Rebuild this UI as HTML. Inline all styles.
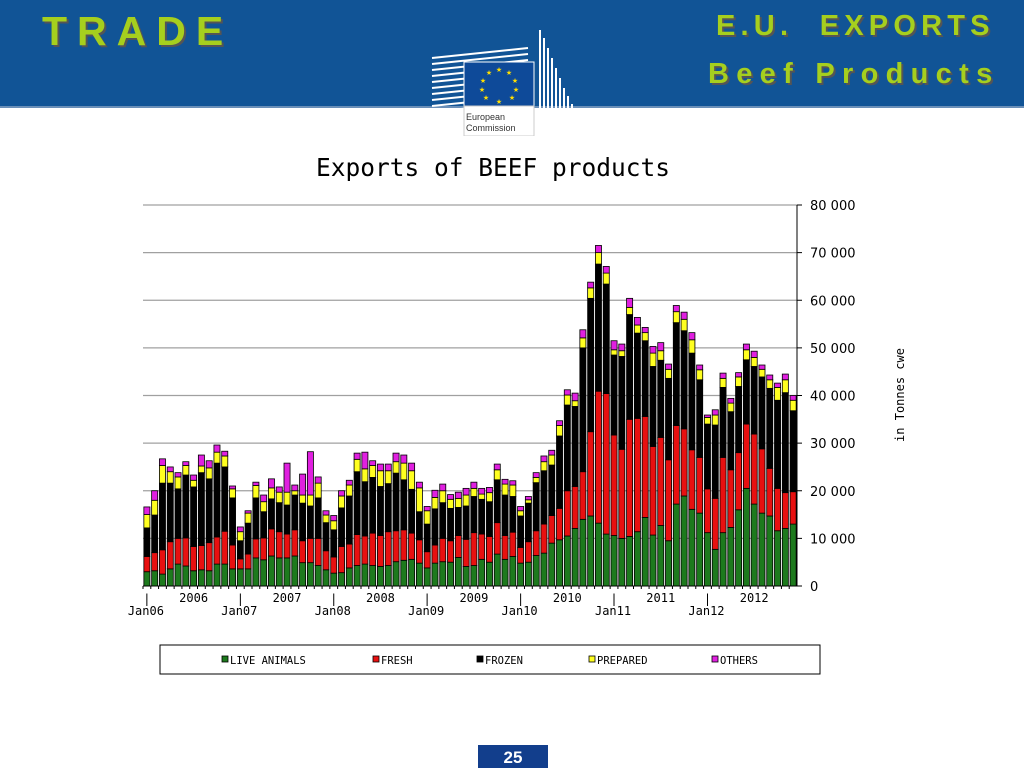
<!DOCTYPE html>
<html><head><meta charset="utf-8">
<style>
body{margin:0;width:1024px;height:768px;overflow:hidden;background:#fff;font-family:"Liberation Sans",sans-serif;position:relative}
.hdr{position:absolute;left:0;top:0;width:1024px;height:106px;background:#115496;border-bottom:2px solid #6a8fb8}
.gt{position:absolute;color:#a6cf1e;font-weight:bold;font-family:"Liberation Sans",sans-serif;text-shadow:2px 2px 0 #555}
.pg{position:absolute;left:478px;top:745px;width:70px;height:23px;background:#123e8c;color:#fff;font-weight:bold;font-size:17px;text-align:center;line-height:26px}
</style></head><body>
<div class="hdr"></div>
<div class="gt" style="left:42px;top:8px;font-size:41px;letter-spacing:10px">TRADE</div>
<div class="gt" style="left:716px;top:10px;font-size:29px;letter-spacing:5.2px">E.U.&nbsp; EXPORTS</div>
<div class="gt" style="left:708px;top:58px;font-size:29px;letter-spacing:7.3px">Beef Products</div>
<svg style="position:absolute;left:428px;top:28px" width="180" height="108">
<g stroke="#fff" stroke-width="2">
<path d="M4 30 L100 20 M4 36 L100 26 M4 42 L100 32 M4 48 L100 38 M4 54 L100 44 M4 60 L100 50 M4 66 L100 56 M4 72 L100 62 M4 78 L100 68 M4 84 L100 74 M4 90 L100 80"/>
<path d="M112 2 L112 100 M116 10 L116 100 M120 20 L120 100 M124 30 L124 100 M128 40 L128 100 M132 50 L132 100 M136 60 L136 100 M140 68 L140 100 M144 76 L144 100 M148 82 L148 100"/>
</g>
<rect x="36" y="34" width="70" height="72" fill="#0e4a99" stroke="#fff"/>
<rect x="36" y="78" width="70" height="30" fill="#fff" stroke="#ccc"/>
<g fill="#ffde00" font-size="7" text-anchor="middle"><text x="71" y="44">★</text><text x="81" y="47">★</text><text x="87" y="55">★</text><text x="88" y="64">★</text><text x="84" y="72">★</text><text x="71" y="76">★</text><text x="58" y="72">★</text><text x="54" y="64">★</text><text x="55" y="55">★</text><text x="61" y="47">★</text></g>
<text x="38" y="92" font-size="9" fill="#333" font-family="Liberation Sans">European</text>
<text x="38" y="103" font-size="9" fill="#333" font-family="Liberation Sans">Commission</text>
</svg>
<svg id="chart" style="position:absolute;left:0;top:0" width="1024" height="768"></svg>
<div class="pg">25</div>
<script>
const months = 84;
const yearLabels = ["2006","2007","2008","2009","2010","2011","2012"];
const janLabels = ["Jan06","Jan07","Jan08","Jan09","Jan10","Jan11","Jan12"];
const yTicks = [0,10000,20000,30000,40000,50000,60000,70000,80000];
const liveAnimals = [3,3.2,2.5,3.6,4.6,4.2,3.2,3.4,3.2,4.6,4.6,3.6, 3.6,3.6,5.9,5.5,6.3,5.9,5.9,6.3,4.9,4.9,4.3,3.4, 2.7,2.8,3.8,4.3,4.6,4.3,4.1,4.3,5.1,5.4,5.6,4.8, 3.8,4.8,5.1,5,6,4.1,4.3,5.6,5,6.7,5.6,6.2, 4.8,5,6.4,6.9,9,9.7,10.5,12.1,14,14.7,13.2,10.9, 10.6,10,10.4,11.4,14.4,10.7,12.7,9.5,17.2,18.9,16.1,15.3, 11.2,7.7,11.2,12.3,16,20.5,17.2,15.3,14.7,11.6,12.1,13];
const fresh = [3.2,3.8,5.1,5.7,5.4,5.9,5.1,5.1,5.9,5.7,6.9,5, 2.1,3.1,4,4.6,5.7,5.5,5,5.5,4.6,5.1,5.7,4, 3.4,5.5,5,6.5,5.9,6.8,6.5,7.1,6.5,6.4,5.5,4.9, 3.4,3.8,4.9,4.5,4.6,5.7,6.9,5.3,5.4,6.6,5,5.1, 3.3,4.3,5.2,6.1,5.8,6.6,9.5,8.8,10,17.7,27.7,29.5, 21.1,18.7,24.6,23.8,21.2,18.6,18.5,17,16.5,14.1,12.5,11.7, 9.2,10.7,15.8,12.1,12,13.5,14.7,13.5,10,8.9,7.5,6.8];
const frozen = [6,7.9,14,12.3,10.4,13.2,12.5,15.3,13.4,15.5,13.5,9.9, 3.8,6.5,8.6,5.5,6.3,6.1,6.1,7.3,7.9,6.8,8.5,5.9, 5.7,8.1,10.1,13.2,11.4,11.7,10.3,10.1,12.1,10.5,9.2,5.9, 5.8,7.6,7.5,6.8,5.9,7,7.6,7.3,7.3,9,8.5,7.5, 6.6,8.1,10.1,11.2,10.6,15.2,18,16.8,26,28,26.7,23, 16.8,19.5,22,17.9,15.9,16.8,16.2,17.1,21.6,20.6,20.3,16.3, 13.6,15.4,14.7,12.2,13.9,13.5,14.2,15.1,16.8,18.5,21,17];
const prepared = [2.8,3.1,3.7,2.4,2.5,2,1.4,1.4,2.3,2.3,2.3,1.9, 1.9,2.1,2.6,2.1,2.3,2.2,2.7,0.9,1.7,2.3,3.1,1.6, 1.9,2.5,2.3,2.6,2.7,2.5,3.3,2.7,2.4,3.5,3.9,5, 2.8,2.4,2.5,1.9,1.9,2.3,1.7,1.1,1.9,2.1,2.3,2.4, 1.1,0.7,1.1,1.9,2.1,2.2,2.1,1.2,2.1,2.2,2.4,2.3, 1.1,1.2,1.5,1.7,1.7,2.8,2,1.9,2.3,2.4,2.8,2.1, 1.4,2.1,1.9,1.8,2,2.1,1.9,1.6,1.8,2.7,2.7,2.2];
const others = [1.6,2,1.4,1,0.9,0.8,1.1,2.3,1.5,1.5,1,0.6, 1,0.5,0.7,1.4,1.9,1.1,6.1,1.2,4.4,9.1,1.3,0.9, 1.1,1.1,1,1.3,3.5,1,1.4,1.4,1.8,1.7,1.6,1.2, 0.9,1.5,1.4,1,1.3,1.4,1.3,1.2,1.1,1.2,1,0.9, 0.9,0.7,1,1.2,1,1,1.1,1.6,1.7,1.2,1.5,1.4, 1.9,1.4,1.9,1.6,1.1,1.4,1.7,1.1,1.3,1.5,1.5,1, 0.5,1.1,1.1,1,0.9,1.2,1.3,0.9,1,0.9,1.2,1];
const seriesNames = ["LIVE ANIMALS","FRESH","FROZEN","PREPARED","OTHERS"];
const seriesColors = ["#1d7a1d","#e81010","#000000","#ffff20","#e020e0"];

const NS="http://www.w3.org/2000/svg";
const svg=document.getElementById('chart');
const X0=143,X1=797,Y0=586,Y1=205;
const pitch=(X1-X0)/months;
function xScale(i){return X0+pitch*i;}
function yScale(v){return Y0-(v-0)/(80000)*(Y0-Y1);}
function mk(tag,attrs,txt){const e=document.createElementNS(NS,tag);for(const k in attrs)e.setAttribute(k,attrs[k]);if(txt!==undefined)e.textContent=txt;svg.appendChild(e);return e;}

let t=mk('text',{x:493,y:176,'text-anchor':'middle','font-size':24.5,'font-family':'DejaVu Sans Mono, monospace',fill:'#000'},'Exports of BEEF products');



yTicks.forEach(v=>{
  const y=yScale(v);
  if(v>0){const g=mk('line',{x1:X0,x2:X1,y1:y,y2:y,stroke:'#a0a0a0','stroke-width':1.3});
  
  }
  const tk=mk('line',{x1:X1,x2:X1+5,y1:y,y2:y,stroke:'#000'});
  
  
  const lbl=v===0?'0':(v/1000)+' 000';
  const tl=mk('text',{x:810,y:y+5,'font-size':13,'font-family':'DejaVu Sans, sans-serif',fill:'#000'},lbl);
  
  
});
const ax=mk('line',{x1:X1,x2:X1,y1:Y1,y2:Y0,stroke:'#000'});


const yt=mk('text',{x:0,y:0,transform:'translate(904,395) rotate(-90)','text-anchor':'middle','font-size':12,'font-family':'DejaVu Sans Mono, monospace',fill:'#000'},'in Tonnes cwe');



const series=[liveAnimals,fresh,frozen,prepared,others];
const keys=['live','fresh','frozen','prepared','others'];
const bw=pitch*0.78;
for(let i=0;i<months;i++){
  let cum=0;
  for(let s=0;s<5;s++){
    const v=series[s][i]*1000;
    const yT=yScale(cum+v),yB=yScale(cum);
    const r=mk('rect',{x:xScale(i)+(pitch-bw)/2,y:yT,width:bw,height:Math.max(0,yB-yT),fill:seriesColors[s],stroke:'#000','stroke-width':0.8});
    
    
    cum+=v;
  }
  const mt=mk('line',{x1:xScale(i),x2:xScale(i),y1:Y0,y2:Y0+3,stroke:'#000'});
  
  
}
const xa=mk('line',{x1:X0,x2:X1,y1:Y0,y2:Y0,stroke:'#000'});


janLabels.forEach((l,k)=>{
  const x=xScale(k*12)+pitch/2;
  const bar=mk('text',{x:x,y:603,'text-anchor':'middle','font-size':12,'font-family':'DejaVu Sans Mono, monospace'},'|');
  
  
  const jl=mk('text',{x:x-1,y:615,'text-anchor':'middle','font-size':12,'font-family':'DejaVu Sans Mono, monospace'},l);
  
  
});
yearLabels.forEach((l,k)=>{
  const x=xScale(k*12+6)+pitch/2;
  const yl=mk('text',{x:x,y:602,'text-anchor':'middle','font-size':12,'font-family':'DejaVu Sans Mono, monospace'},l);
  
  
});
const lb=mk('rect',{x:160,y:645,width:660,height:29,fill:'#fff',stroke:'#000'});


const lx=[222,373,477,589,712];
seriesNames.forEach((n,s)=>{
  const sw=mk('rect',{x:lx[s],y:656,width:6,height:6,fill:seriesColors[s],stroke:'#000','stroke-width':0.8});
  
  
  const lt=mk('text',{x:lx[s]+8,y:664,'font-size':10.5,'font-family':'DejaVu Sans Mono, monospace'},n);
  
  
});
</script>
</body></html>
